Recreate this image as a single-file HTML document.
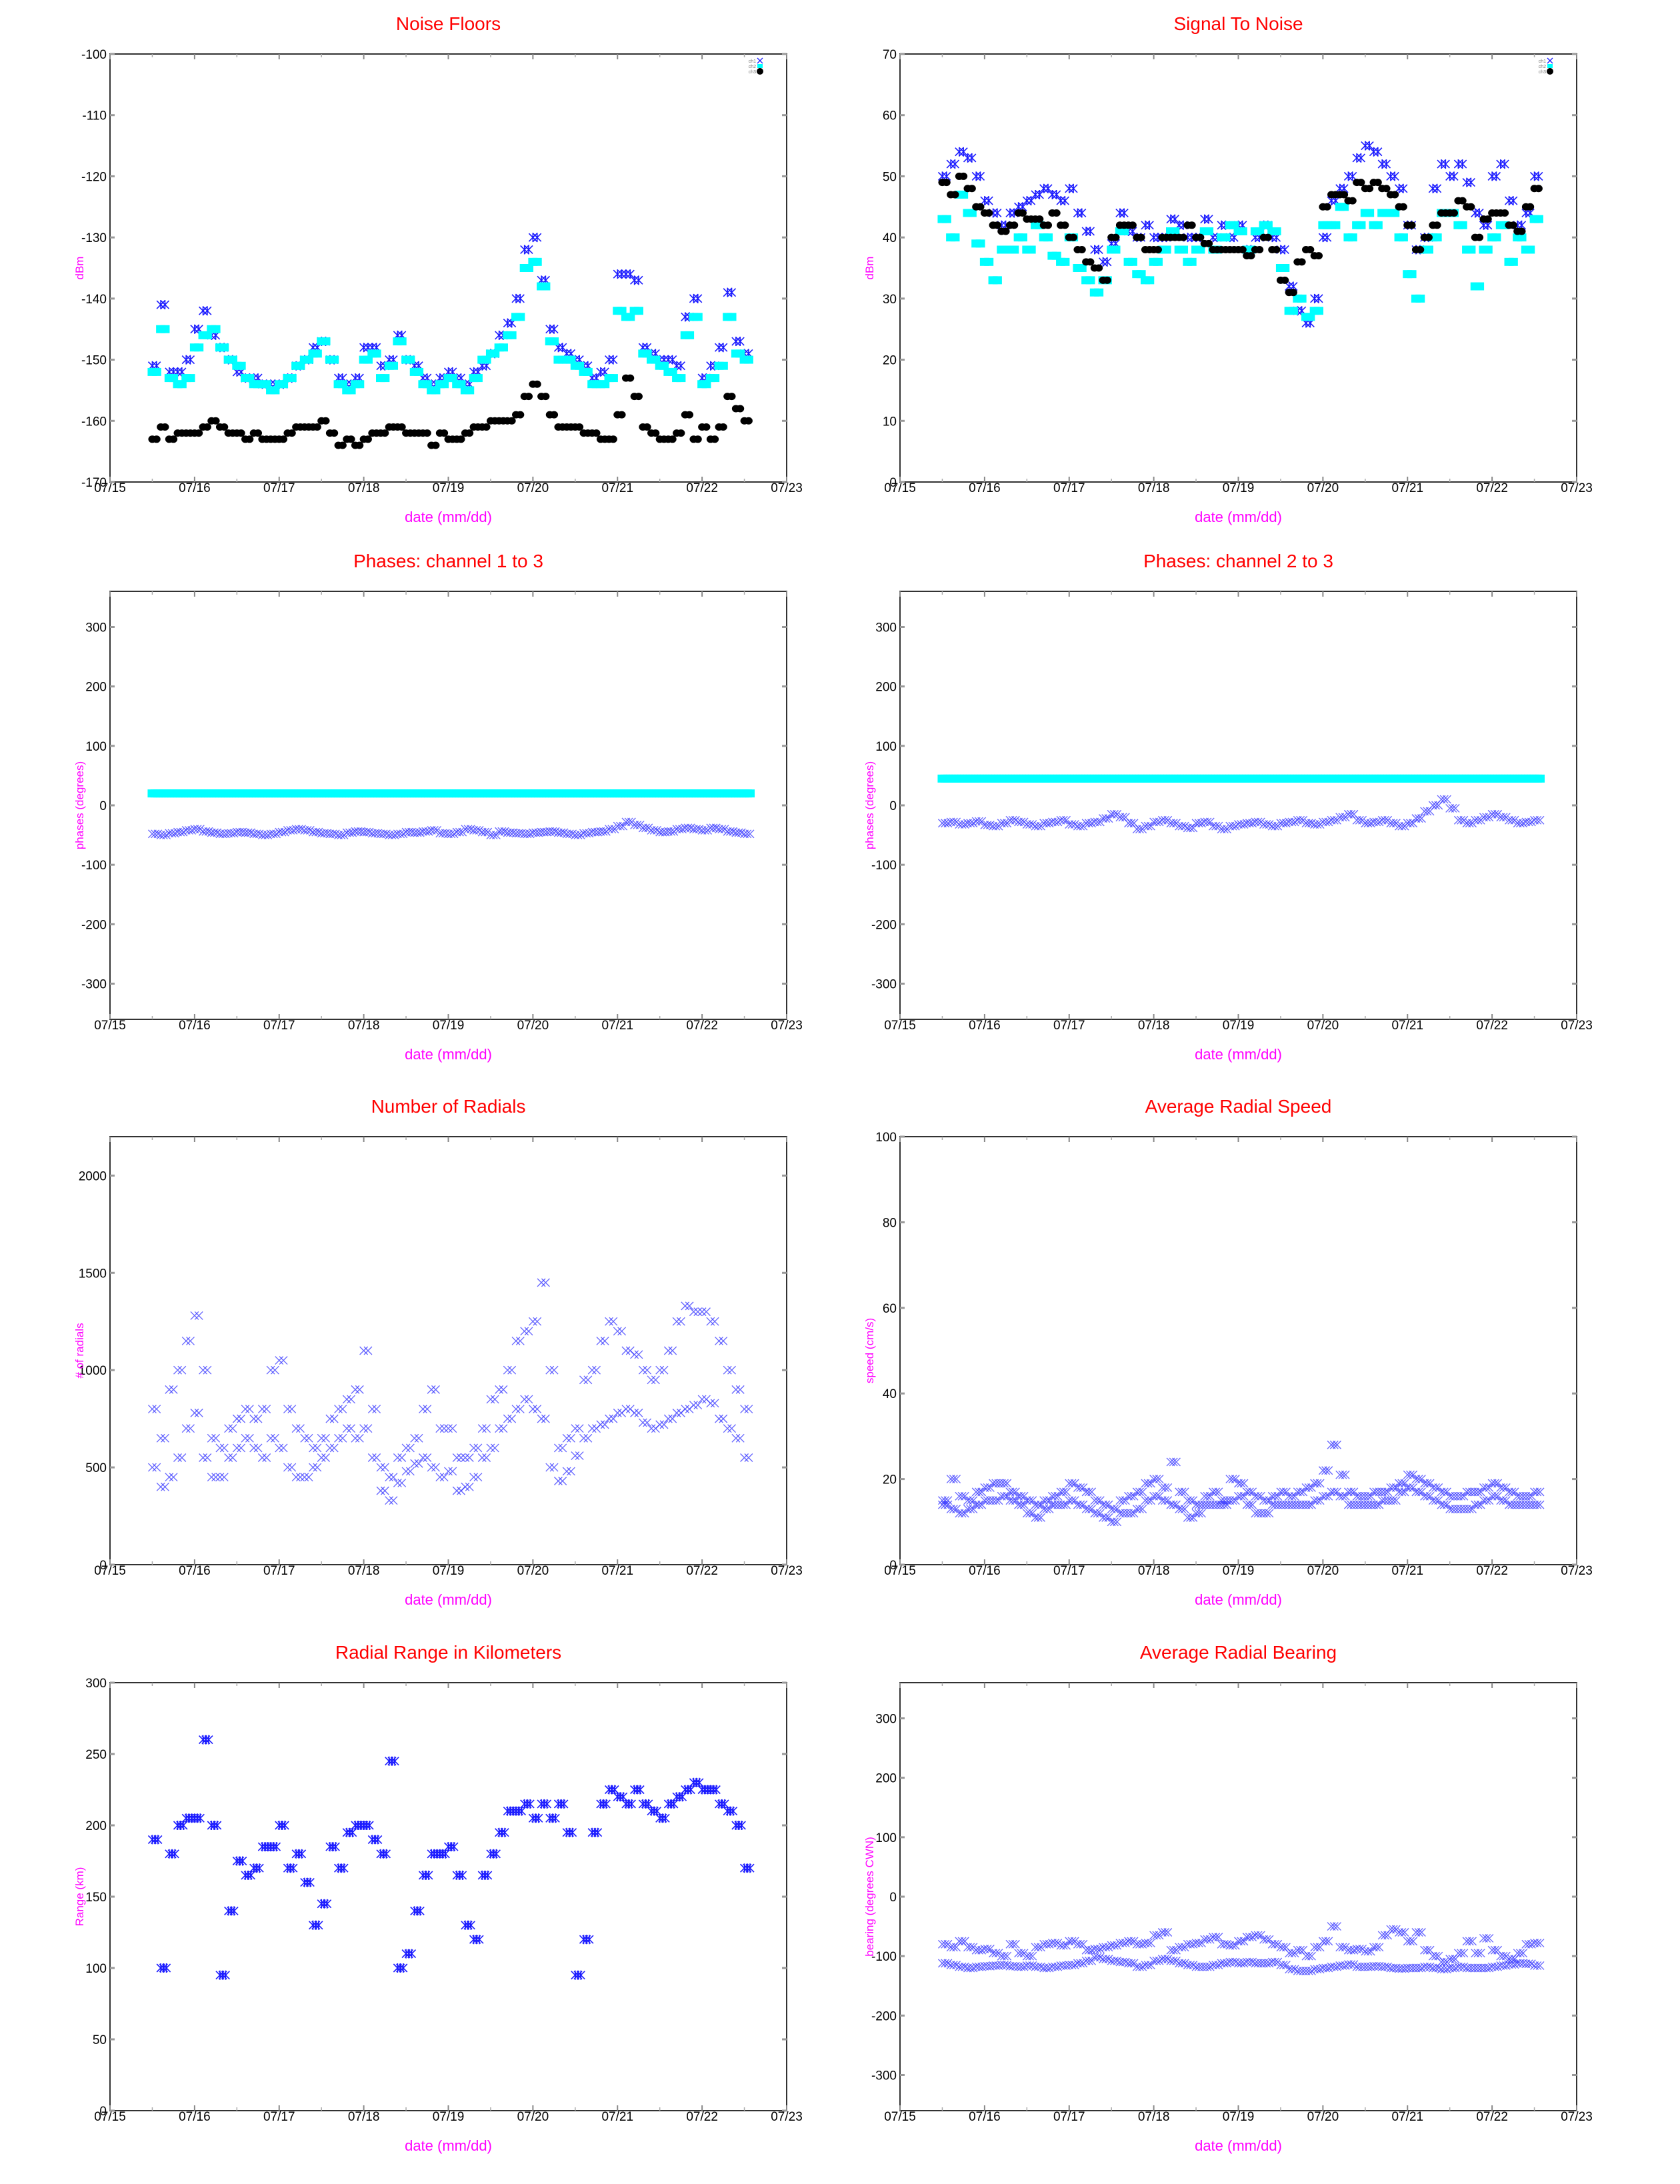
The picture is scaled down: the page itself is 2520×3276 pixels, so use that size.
<!DOCTYPE html>
<html><head><meta charset="utf-8">
<style>
html,body{margin:0;padding:0;background:#fff;}
svg{display:block;}
text{font-family:"Liberation Sans",sans-serif;}
</style></head>
<body>
<svg id="root" xmlns="http://www.w3.org/2000/svg" width="2520" height="3276" viewBox="0 0 2520 3276"></svg>
<script>
const days=[0.5,0.6,0.7,0.8,0.9,1.0,1.1,1.2,1.3,1.4,1.5,1.6,1.7,1.8,1.9,2.0,2.1,2.2,2.3,2.4,2.5,2.6,2.7,2.8,2.9,3.0,3.1,3.2,3.3,3.4,3.5,3.6,3.7,3.8,3.9,4.0,4.1,4.2,4.3,4.4,4.5,4.6,4.7,4.8,4.9,5.0,5.1,5.2,5.3,5.4,5.5,5.6,5.7,5.8,5.9,6.0,6.1,6.2,6.3,6.4,6.5,6.6,6.7,6.8,6.9,7.0,7.1,7.2,7.3,7.4,7.5];
const dateTicks=["07/15","07/16","07/17","07/18","07/19","07/20","07/21","07/22","07/23"];

const noiseCh1=[-151,-141,-152,-152,-150,-145,-142,-146,-148,-150,-152,-153,-153,-154,-154,-154,-153,-151,-150,-148,-147,-150,-153,-154,-153,-148,-148,-151,-150,-146,-150,-151,-153,-154,-153,-152,-153,-154,-152,-151,-149,-146,-144,-140,-132,-130,-137,-145,-148,-149,-150,-151,-153,-152,-150,-136,-136,-137,-148,-149,-150,-150,-151,-143,-140,-153,-151,-148,-139,-147,-149];
const noiseCh2=[-152,-145,-153,-154,-153,-148,-146,-145,-148,-150,-151,-153,-154,-154,-155,-154,-153,-151,-150,-149,-147,-150,-154,-155,-154,-150,-149,-153,-151,-147,-150,-152,-154,-155,-154,-153,-154,-155,-153,-150,-149,-148,-146,-143,-135,-134,-138,-147,-150,-150,-151,-152,-154,-154,-153,-142,-143,-142,-149,-150,-151,-152,-153,-146,-143,-154,-153,-151,-143,-149,-150];
const noiseCh3=[-163,-161,-163,-162,-162,-162,-161,-160,-161,-162,-162,-163,-162,-163,-163,-163,-162,-161,-161,-161,-160,-162,-164,-163,-164,-163,-162,-162,-161,-161,-162,-162,-162,-164,-162,-163,-163,-162,-161,-161,-160,-160,-160,-159,-156,-154,-156,-159,-161,-161,-161,-162,-162,-163,-163,-159,-153,-156,-161,-162,-163,-163,-162,-159,-163,-161,-163,-161,-156,-158,-160];
const noiseTicks=[-170,-160,-150,-140,-130,-120,-110,-100];

const snrCh1=[50,52,54,53,50,46,44,42,44,45,46,47,48,47,46,48,44,41,38,36,39,44,41,40,42,40,40,43,42,40,40,43,40,42,40,42,38,40,42,40,38,32,28,26,30,40,46,48,50,53,55,54,52,50,48,42,38,40,48,52,50,52,49,44,42,50,52,46,42,44,50];
const snrCh2=[43,40,47,44,39,36,33,38,38,40,38,42,40,37,36,40,35,33,31,33,38,41,36,34,33,36,38,41,38,36,38,41,38,40,42,41,38,41,42,41,35,28,30,27,28,42,42,45,40,42,44,42,44,44,40,34,30,38,40,44,44,42,38,32,38,40,42,36,40,38,43];
const snrCh3=[49,47,50,48,45,44,42,41,42,44,43,43,42,44,42,40,38,36,35,33,40,42,42,40,38,38,40,40,40,42,40,39,38,38,38,38,37,38,40,38,33,31,36,38,37,45,47,47,46,49,48,49,48,47,45,42,38,40,42,44,44,46,45,40,43,44,44,42,41,45,48];
const snrTicks=[0,10,20,30,40,50,60,70];

const ph13Ch1=[-48,-50,-47,-45,-42,-40,-44,-46,-48,-47,-45,-46,-48,-50,-48,-45,-42,-40,-42,-45,-47,-48,-50,-46,-44,-45,-47,-48,-50,-48,-45,-46,-44,-42,-47,-48,-45,-40,-42,-45,-50,-44,-46,-47,-48,-46,-45,-44,-46,-48,-50,-47,-45,-44,-40,-35,-28,-33,-38,-42,-45,-44,-40,-38,-40,-42,-38,-40,-44,-46,-48];
const ph13Ch2=[20,20,20,20,20,20,20,20,20,20,20,20,20,20,20,20,20,20,20,20,20,20,20,20,20,20,20,20,20,20,20,20,20,20,20,20,20,20,20,20,20,20,20,20,20,20,20,20,20,20,20,20,20,20,20,20,20,20,20,20,20,20,20,20,20,20,20,20,20,20,20];
const ph23Ch1=[-30,-28,-32,-30,-27,-33,-35,-30,-25,-28,-32,-35,-30,-28,-25,-32,-35,-30,-28,-22,-15,-20,-30,-40,-35,-28,-25,-30,-35,-38,-30,-28,-35,-40,-35,-32,-30,-28,-32,-35,-30,-28,-25,-30,-32,-28,-25,-20,-15,-25,-30,-28,-25,-30,-35,-30,-22,-10,0,10,-5,-25,-30,-25,-20,-15,-20,-25,-30,-28,-25];
const ph23Ch2=[45,45,45,45,45,45,45,45,45,45,45,45,45,45,45,45,45,45,45,45,45,45,45,45,45,45,45,45,45,45,45,45,45,45,45,45,45,45,45,45,45,45,45,45,45,45,45,45,45,45,45,45,45,45,45,45,45,45,45,45,45,45,45,45,45,45,45,45,45,45,45];
const phaseTicks=[-300,-200,-100,0,100,200,300];

const radUpper=[800,650,900,1000,1150,1280,1000,650,600,700,750,800,750,800,1000,1050,800,700,650,600,650,750,800,850,900,1100,800,500,450,550,600,650,800,900,700,700,550,550,600,700,850,900,1000,1150,1200,1250,1450,1000,600,650,700,950,1000,1150,1250,1200,1100,1080,1000,950,1000,1100,1250,1330,1300,1300,1250,1150,1000,900,800];
const radLower=[500,400,450,550,700,780,550,450,450,550,600,650,600,550,650,600,500,450,450,500,550,600,650,700,650,700,550,380,330,420,480,520,550,500,450,480,380,400,450,550,600,700,750,800,850,800,750,500,430,480,560,650,700,720,750,780,800,780,730,700,720,750,780,800,820,850,830,750,700,650,550];
const radTicks=[0,500,1000,1500,2000];

const spdUpper=[15,20,16,15,17,18,19,19,17,16,15,14,15,16,17,19,18,17,15,14,13,15,16,17,19,20,18,24,17,15,14,16,17,15,20,19,17,16,15,16,17,16,17,18,19,22,28,21,17,16,16,17,17,18,19,21,20,19,18,17,16,16,17,17,18,19,18,17,16,16,17];
const spdLower=[14,13,12,13,14,15,15,16,15,14,12,11,13,14,14,15,14,13,12,11,10,12,12,13,15,16,15,14,13,11,12,14,14,14,15,16,14,12,12,14,14,14,14,14,15,16,17,16,14,14,14,14,15,15,17,18,17,16,15,14,13,13,13,14,15,16,15,14,14,14,14];
const spdTicks=[0,20,40,60,80,100];

const rangeKm=[190,100,180,200,205,205,260,200,95,140,175,165,170,185,185,200,170,180,160,130,145,185,170,195,200,200,190,180,245,100,110,140,165,180,180,185,165,130,120,165,180,195,210,210,215,205,215,205,215,195,95,120,195,215,225,220,215,225,215,210,205,215,220,225,230,225,225,215,210,200,170];
const rangeTicks=[0,50,100,150,200,250,300];

const brgUpper=[-80,-85,-75,-85,-90,-88,-95,-100,-80,-95,-100,-85,-80,-78,-82,-75,-80,-90,-88,-85,-82,-78,-75,-80,-78,-65,-60,-90,-85,-80,-78,-72,-68,-80,-82,-75,-68,-65,-72,-80,-85,-95,-90,-100,-85,-75,-50,-85,-90,-88,-92,-85,-65,-55,-60,-75,-60,-90,-100,-110,-105,-95,-75,-95,-70,-90,-100,-105,-95,-80,-78];
const brgLower=[-112,-115,-118,-120,-118,-117,-116,-115,-117,-118,-116,-118,-120,-118,-116,-115,-112,-108,-102,-105,-108,-110,-112,-118,-115,-108,-105,-108,-112,-115,-118,-118,-115,-112,-110,-112,-110,-112,-112,-110,-115,-122,-125,-125,-122,-120,-118,-116,-114,-118,-118,-117,-118,-120,-121,-120,-120,-118,-120,-122,-120,-118,-120,-120,-120,-118,-116,-114,-112,-113,-116];
const brgTicks=[-300,-200,-100,0,100,200,300];

const NS="http://www.w3.org/2000/svg";
const root=document.getElementById('root');
function mk(tag,attrs,parent){const e=document.createElementNS(NS,tag);for(const k in attrs)e.setAttribute(k,attrs[k]);(parent||root).appendChild(e);return e;}

const W=1015,H=642;
function panel(name,x0,y0,ymin,ymax,yticks,title,ytitle,series,legend){
  const g=mk('g',{});
  
  
  const xs=d=>x0+d/8*W;
  const ys=v=>y0+H-(v-ymin)/(ymax-ymin)*H;
  const t=mk('text',{x:x0+W/2,y:y0-36,'text-anchor':'middle','font-size':28,fill:'#ff0000'},g);
  t.textContent=title;
  
  
  const fr=mk('rect',{x:x0,y:y0,width:W,height:H,fill:'none',stroke:'#333','stroke-width':2},g);
  
  
  for(let i=0;i<dateTicks.length;i++){
    const x=xs(i);
    mk('line',{x1:x,y1:y0+H,x2:x,y2:y0+H-8,stroke:'#888','stroke-width':2},g);
    mk('line',{x1:x,y1:y0,x2:x,y2:y0+8,stroke:'#888','stroke-width':2},g);
    if(i<8){const xm=xs(i+0.5);
      mk('line',{x1:xm,y1:y0+H,x2:xm,y2:y0+H-5,stroke:'#aaa','stroke-width':1.5},g);
      mk('line',{x1:xm,y1:y0,x2:xm,y2:y0+5,stroke:'#aaa','stroke-width':1.5},g);}
    const tl=mk('text',{x:x,y:y0+H+15,'text-anchor':'middle','font-size':19,fill:'#000'},g);
    tl.textContent=dateTicks[i];
    
    
  }
  for(const v of yticks){
    const y=ys(v);
    mk('line',{x1:x0,y1:y,x2:x0+7,y2:y,stroke:'#999','stroke-width':3},g);
    mk('line',{x1:x0+W,y1:y,x2:x0+W-7,y2:y,stroke:'#999','stroke-width':3},g);
    const yl=mk('text',{x:x0-5,y:y+7,'text-anchor':'end','font-size':19,fill:'#000'},g);
    yl.textContent=String(v);
    
    
  }
  const xt=mk('text',{x:x0+W/2,y:y0+H+60,'text-anchor':'middle','font-size':22,fill:'#ff00ff'},g);
  xt.textContent='date (mm/dd)';
  
  
  const yt=mk('text',{x:0,y:0,'text-anchor':'middle','font-size':17,fill:'#ff00ff',transform:`translate(${x0-40},${y0+H/2}) rotate(-90)`},g);
  yt.textContent=ytitle;
  
  
  for(const s of series){
    const sg=mk('g',{},g);
    
    
    const n=Math.min(days.length,s.vals.length);
    for(let i=0;i<n;i++){
      for(let k=0;k<s.rep;k++){
        const d=days[i]+k*0.1/s.rep;
        const x=xs(d),y=ys(s.vals[i]);
        let m;
        if(s.kind==='dot'){m=mk('ellipse',{cx:x,cy:y,rx:6,ry:5.5,fill:'#000'},sg);}
        else if(s.kind==='sq'){m=mk('rect',{x:x-7,y:y-6,width:14,height:12,fill:'#00ffff'},sg);}
        else if(s.kind==='star'){m=mk('path',{d:`M${x-6} ${y-6}L${x+6} ${y+6}M${x-6} ${y+6}L${x+6} ${y-6}M${x} ${y-7}L${x} ${y+7}`,stroke:'#1a1aff','stroke-width':1.6,fill:'none'},sg);}
        else {m=mk('path',{d:`M${x-6} ${y-6}L${x+6} ${y+6}M${x-6} ${y+6}L${x+6} ${y-6}`,stroke:'#3030ff','stroke-width':1.3,fill:'none','stroke-opacity':0.75},sg);}
        
        
      }
    }
  }
  if(legend){
    const lg=mk('g',{},g);
    
    
    const lx=x0+W-40,ly=y0+10;
    ['ch1','ch2','ch3'].forEach((c,i)=>{
      const lt=mk('text',{x:lx-6,y:ly+i*8+3,'text-anchor':'end','font-size':7,fill:'#777'},lg);
      lt.textContent=c;
      
      
    });
    mk('path',{d:`M${lx-4} ${ly-4}L${lx+4} ${ly+4}M${lx-4} ${ly+4}L${lx+4} ${ly-4}`,stroke:'#1a1aff','stroke-width':1.3},lg);
    mk('rect',{x:lx-4,y:ly+5,width:8,height:6,fill:'#00ffff'},lg);
    mk('ellipse',{cx:lx,cy:ly+16,rx:5,ry:5,fill:'#000'},lg);
  }
}
const LX=165,RX=1350,R1=81,R2=887,R3=1705,R4=2524;
panel('noise-floors-chart',LX,R1,-170,-100,noiseTicks,'Noise Floors','dBm',[
  {name:'series-ch1',vals:noiseCh1,kind:'star',rep:2},
  {name:'series-ch2',vals:noiseCh2,kind:'sq',rep:2},
  {name:'series-ch3',vals:noiseCh3,kind:'dot',rep:2}],true);
panel('signal-to-noise-chart',RX,R1,0,70,snrTicks,'Signal To Noise','dBm',[
  {name:'series-ch1',vals:snrCh1,kind:'star',rep:2},
  {name:'series-ch2',vals:snrCh2,kind:'sq',rep:2},
  {name:'series-ch3',vals:snrCh3,kind:'dot',rep:2}],true);
panel('phases-1-3-chart',LX,R2,-360,360,phaseTicks,'Phases: channel 1 to 3','phases (degrees)',[
  {name:'series-ch2',vals:ph13Ch2,kind:'sq',rep:3},
  {name:'series-ch1',vals:ph13Ch1,kind:'x',rep:3}],false);
panel('phases-2-3-chart',RX,R2,-360,360,phaseTicks,'Phases: channel 2 to 3','phases (degrees)',[
  {name:'series-ch2',vals:ph23Ch2,kind:'sq',rep:3},
  {name:'series-ch1',vals:ph23Ch1,kind:'x',rep:3}],false);
panel('number-of-radials-chart',LX,R3,0,2200,radTicks,'Number of Radials','# of radials',[
  {name:'series-upper',vals:radUpper,kind:'x',rep:2},
  {name:'series-lower',vals:radLower,kind:'x',rep:2}],false);
panel('average-radial-speed-chart',RX,R3,0,100,spdTicks,'Average Radial Speed','speed (cm/s)',[
  {name:'series-upper',vals:spdUpper,kind:'x',rep:3},
  {name:'series-lower',vals:spdLower,kind:'x',rep:3}],false);
panel('radial-range-chart',LX,R4,0,300,rangeTicks,'Radial Range in Kilometers','Range (km)',[
  {name:'series-range',vals:rangeKm,kind:'star',rep:3}],false);
panel('average-radial-bearing-chart',RX,R4,-360,360,brgTicks,'Average Radial Bearing','bearing (degrees CWN)',[
  {name:'series-upper',vals:brgUpper,kind:'x',rep:3},
  {name:'series-lower',vals:brgLower,kind:'x',rep:3}],false);
</script>
</body></html>
